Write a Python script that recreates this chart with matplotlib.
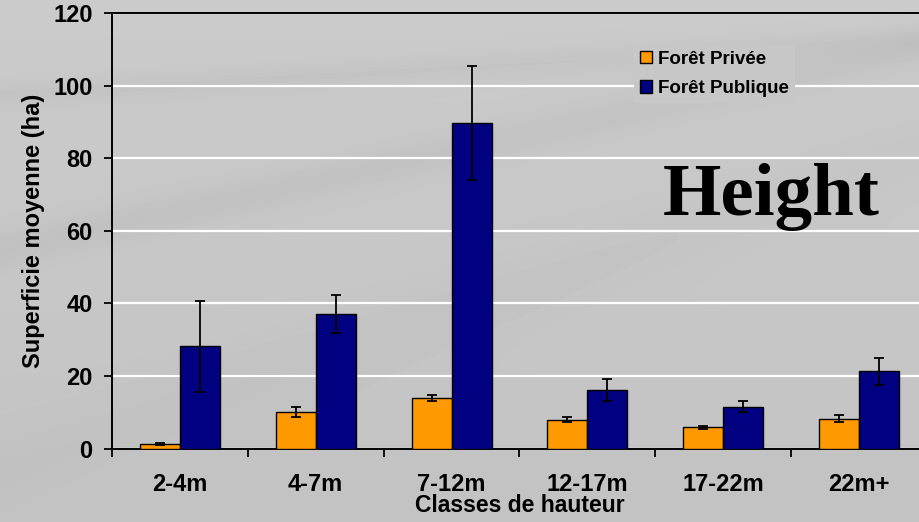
import numpy as np
import matplotlib
matplotlib.use("Agg")
import matplotlib.pyplot as plt
from matplotlib.patches import Patch
from matplotlib.font_manager import FontProperties

# Mean stand area (ha) by height class, private vs public forest
categories = ["2-4m", "4-7m", "7-12m", "12-17m", "17-22m", "22m+"]
privee = [1.2, 10.0, 14.0, 7.9, 5.9, 8.2]
privee_err = [0.2, 1.4, 0.8, 0.7, 0.4, 1.0]
publique = [28.2, 37.1, 89.8, 16.1, 11.5, 21.3]
publique_err = [12.6, 5.3, 15.8, 3.1, 1.5, 3.7]
y_ticks = [0, 20, 40, 60, 80, 100, 120]

ORANGE = "#FF9900"
NAVY = "#000080"

W, H = 919, 522
fig = plt.figure(figsize=(W / 100, H / 100), dpi=100)
plt.rcParams["font.family"] = ["Liberation Sans", "DejaVu Sans"]

# soft grey backdrop with a couple of faint diagonal streaks
bg_ax = fig.add_axes([0, 0, 1, 1], zorder=-10)
yy, xx = np.mgrid[0:H, 0:W]
base = 0.795 - 0.03 * (yy / H)
streak1 = 0.025 * np.exp(-((yy - (250 - 0.22 * xx)) / 20.0) ** 2)
streak2 = 0.022 * np.exp(-((yy - (95 - 0.06 * xx)) / 14.0) ** 2)
streak3 = 0.012 * np.exp(-((yy - (470 - 0.35 * xx)) / 40.0) ** 2)
img = np.clip(base - streak1 - streak2 - streak3, 0, 1)
bg_ax.imshow(img, cmap="gray", vmin=0, vmax=1, aspect="auto",
             extent=[0, W, H, 0], interpolation="bilinear")
bg_ax.axis("off")
leg_bg = str(float(img[72, 715]))

ax = fig.add_axes([112 / W, 1 - 448.5 / H, (927 - 112) / W, (448.5 - 13.3) / H])
ax.patch.set_alpha(0)

x = np.arange(len(categories))
bw = 0.294
ebk = dict(ecolor="black", elinewidth=1.3, capsize=3.8, capthick=1.3)
ax.bar(x - bw / 2, privee, bw, color=ORANGE, edgecolor="black", linewidth=1.0,
       yerr=privee_err, error_kw=ebk, zorder=3)
ax.bar(x + bw / 2, publique, bw, color=NAVY, edgecolor="black", linewidth=1.0,
       yerr=publique_err, error_kw=ebk, zorder=3)

ax.set_xlim(-0.5, len(categories) - 0.5)
ax.set_ylim(0, 120)
ax.set_yticks(y_ticks)
ax.yaxis.grid(True, color="white", linewidth=1.6, zorder=0)
ax.set_axisbelow(True)

ax.set_xticks(x)
ax.set_xticklabels(categories, fontsize=17, fontweight="bold")
ax.set_xticks(np.arange(-0.5, len(categories) - 0.4, 1.0), minor=True)
ax.tick_params(axis="x", which="major", length=0, pad=17.5)
ax.tick_params(axis="x", which="minor", length=6, width=1.3, direction="out", color="black")
ax.tick_params(axis="y", length=6, width=1.3, direction="out", pad=8, labelsize=17)
for lab in ax.get_yticklabels():
    lab.set_fontweight("bold")

for side in ["left", "bottom", "top"]:
    ax.spines[side].set_linewidth(1.4)
    ax.spines[side].set_color("black")
ax.spines["right"].set_visible(False)

ax.set_xlabel("Classes de hauteur", fontsize=16.5, fontweight="bold", labelpad=-1.5)
ax.set_ylabel("Superficie moyenne (ha)", fontsize=17, fontweight="bold", labelpad=6)

handles = [Patch(facecolor=ORANGE, edgecolor="black", linewidth=1.0, label="Forêt Privée"),
           Patch(facecolor=NAVY, edgecolor="black", linewidth=1.0, label="Forêt Publique")]
leg_font = FontProperties(family="Liberation Sans", weight="bold", size=13.5)
leg = fig.legend(handles=handles, loc="upper left",
                 bbox_to_anchor=(634 / W, 1 - 45 / H),
                 prop=leg_font,
                 handlelength=0.65, handleheight=0.65, handletextpad=0.35,
                 labelspacing=0.66, borderpad=0.3, borderaxespad=0,
                 frameon=True, fancybox=False, facecolor=leg_bg, edgecolor="none",
                 framealpha=1)

fig.text(771 / W, 1 - 215 / H, "Height", ha="center", va="baseline",
         fontsize=54, fontweight="bold", family=["Liberation Serif", "DejaVu Serif"],
         color="black")

fig.savefig("out.png", dpi=100)
